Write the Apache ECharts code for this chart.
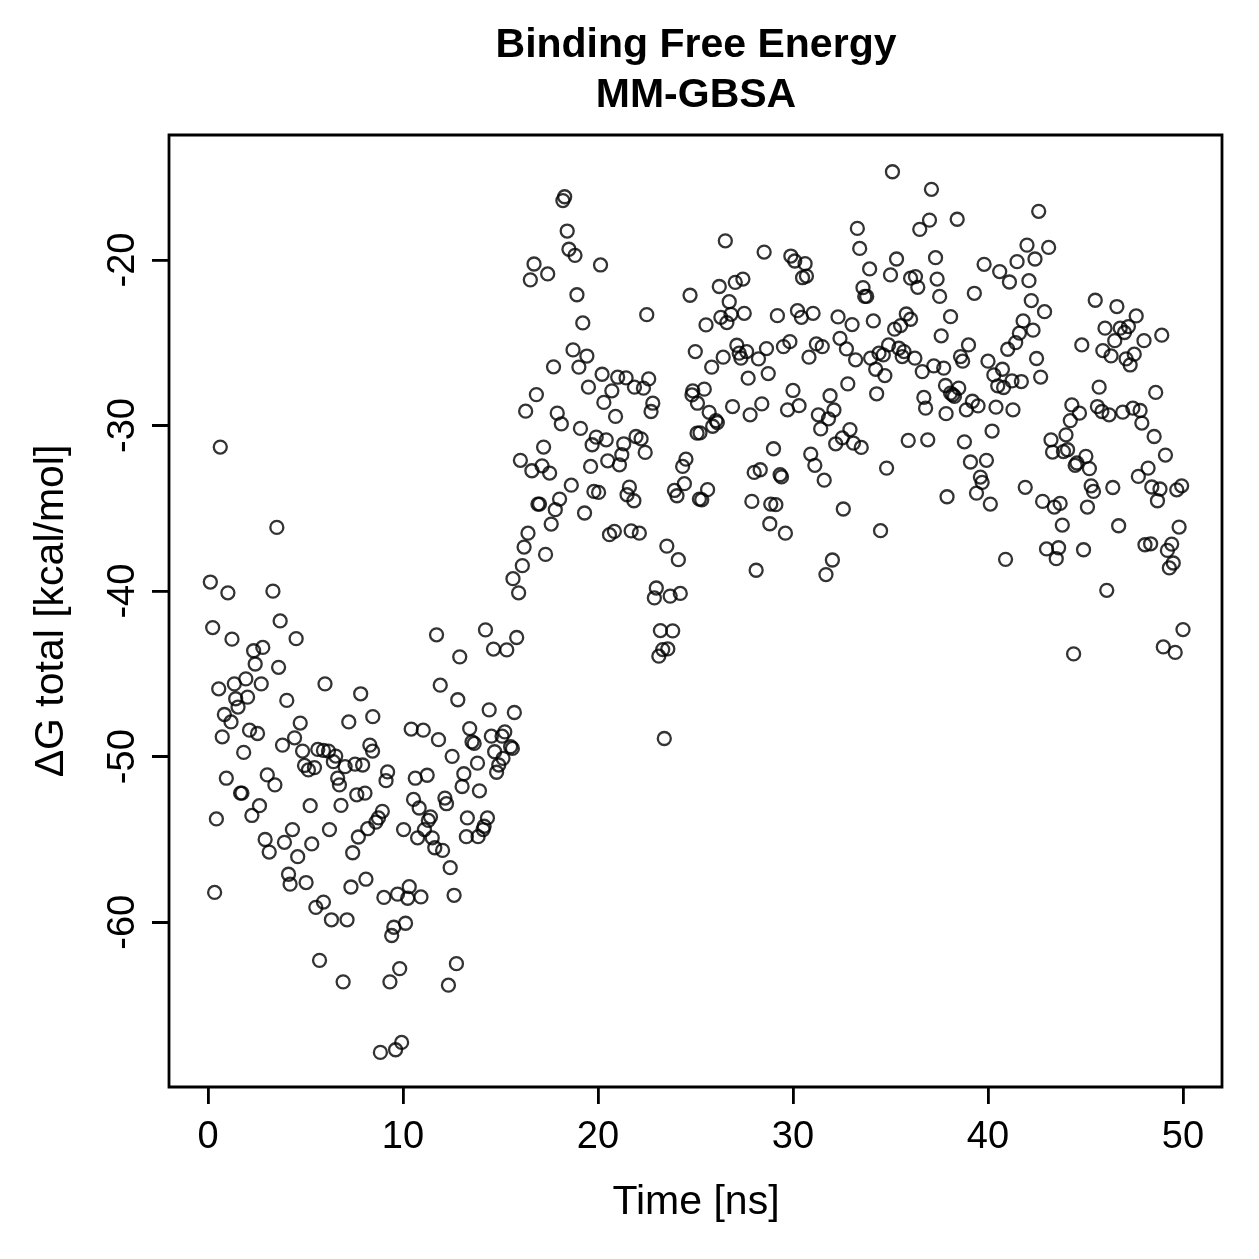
<!DOCTYPE html>
<html><head><meta charset="utf-8">
<script src="https://cdn.jsdelivr.net/npm/echarts@6/dist/echarts.min.js"></script>
<style>html,body{margin:0;padding:0;background:#fff}#wrap{position:relative;width:1259px;height:1259px}#c{width:1259px;height:1259px}.tk{position:absolute;background:#000;z-index:10}</style>
</head><body><div id="wrap"><div id="c"></div></div>
<script>
// [time (ns), dG total (kcal/mol)]
const phase1 = [[0.63,-31.3],[3.53,-36.15],[0.12,-39.45],[1.02,-40.1],[3.33,-40.0],[3.7,-41.8],[0.24,-42.2],[1.23,-42.9],[4.52,-42.87],[2.34,-43.6],[2.81,-43.4],[2.42,-44.4],[3.62,-44.6],[0.55,-45.9],[1.35,-45.6],[1.94,-45.3],[2.73,-45.6],[6.0,-45.6],[7.83,-46.2],[1.42,-46.5],[2.03,-46.4],[4.04,-46.6],[1.54,-47.0],[0.84,-47.45],[1.18,-47.9],[4.73,-47.97],[7.22,-47.9],[8.45,-47.58],[0.73,-48.8],[2.13,-48.4],[2.54,-48.6],[1.83,-49.74],[3.82,-49.3],[4.44,-48.86],[4.85,-49.66],[5.63,-49.56],[5.92,-49.62],[6.18,-49.66],[6.55,-49.96],[6.43,-50.3],[7.03,-50.6],[7.54,-50.45],[7.93,-50.5],[8.3,-49.3],[8.44,-49.66],[4.95,-50.53],[5.15,-50.8],[5.46,-50.66],[0.94,-51.3],[3.04,-51.1],[3.43,-51.7],[6.65,-51.3],[6.74,-51.7],[1.67,-52.2],[1.74,-52.2],[2.64,-52.96],[2.25,-53.55],[5.24,-52.96],[6.82,-52.94],[7.63,-52.3],[8.05,-52.2],[0.43,-53.76],[4.33,-54.4],[3.92,-55.17],[6.23,-54.4],[8.19,-54.35],[7.71,-54.85],[2.93,-55.0],[3.14,-55.76],[5.32,-55.27],[4.6,-56.04],[7.42,-55.8],[4.13,-57.1],[4.21,-57.7],[5.03,-57.6],[7.33,-57.87],[8.1,-57.4],[0.34,-58.2],[5.92,-58.78],[5.53,-59.1],[6.33,-59.85],[7.13,-59.85],[5.72,-62.3],[6.93,-63.6]];
const phase2 = [[8.94,-53.3],[8.74,-53.7],[8.61,-53.95],[10.03,-54.4],[11.41,-53.63],[11.3,-53.85],[11.1,-54.4],[10.75,-54.9],[11.5,-54.9],[11.63,-55.5],[12.03,-55.66],[13.3,-53.7],[14.33,-53.7],[14.16,-54.2],[14.11,-54.4],[13.85,-54.83],[13.25,-54.83],[11.72,-42.64],[14.23,-42.34],[15.83,-42.8],[14.64,-43.5],[15.32,-43.55],[12.91,-43.97],[11.91,-45.68],[12.81,-46.56],[14.42,-47.17],[15.71,-47.33],[10.42,-48.33],[11.04,-48.4],[11.82,-48.97],[13.42,-48.3],[13.54,-49.1],[13.65,-49.2],[14.53,-48.76],[15.08,-48.76],[15.22,-48.5],[14.7,-49.7],[15.52,-49.4],[15.61,-49.5],[15.13,-50.1],[14.91,-50.5],[14.8,-50.94],[12.52,-49.98],[13.82,-50.39],[9.21,-50.92],[9.13,-51.45],[10.63,-51.3],[11.24,-51.12],[13.12,-51.03],[13.03,-51.8],[13.92,-52.06],[10.54,-52.58],[10.83,-53.1],[12.15,-52.5],[12.23,-52.84],[12.42,-56.7],[9.02,-58.5],[9.72,-58.3],[10.32,-57.85],[10.24,-58.55],[10.92,-58.47],[12.62,-58.37],[9.53,-60.3],[9.42,-60.8],[10.13,-60.06],[9.83,-62.8],[9.33,-63.6],[12.74,-62.5],[12.33,-63.8],[9.93,-67.26],[9.62,-67.7],[8.84,-67.86]];
const phase3 = [[18.29,-16.18],[18.2,-16.41],[18.42,-18.25],[18.51,-19.35],[18.82,-19.72],[20.13,-20.3],[16.72,-20.24],[17.42,-20.84],[16.53,-21.2],[18.92,-22.1],[24.72,-22.13],[22.5,-23.3],[19.22,-23.8],[18.72,-25.43],[19.43,-25.8],[19.02,-26.47],[24.99,-25.53],[17.72,-26.45],[20.21,-26.9],[21.01,-27.08],[21.44,-27.12],[19.51,-27.68],[20.71,-27.9],[20.3,-28.6],[21.87,-27.68],[22.33,-27.74],[22.6,-27.18],[22.81,-28.65],[22.72,-29.15],[16.84,-28.13],[16.29,-29.13],[17.91,-29.25],[18.12,-29.9],[20.9,-29.45],[19.1,-30.17],[19.91,-30.7],[19.7,-31.16],[20.42,-30.86],[21.95,-30.66],[22.21,-30.8],[21.32,-31.1],[21.22,-31.76],[21.1,-32.37],[22.42,-31.62],[17.21,-31.3],[16.02,-32.1],[16.61,-32.73],[17.13,-32.43],[17.52,-32.87],[19.62,-32.47],[20.5,-32.13],[24.51,-32.03],[24.34,-32.47],[25.08,-30.46],[24.86,-27.9],[24.82,-28.15],[18.63,-33.6],[19.79,-33.98],[20.03,-34.04],[21.61,-33.72],[21.49,-34.18],[21.84,-34.54],[23.92,-33.92],[24.43,-33.51],[24.05,-34.24],[25.2,-34.44],[16.92,-34.74],[17.0,-34.74],[18.03,-34.44],[17.81,-35.08],[17.6,-35.95],[19.31,-35.28],[20.59,-36.59],[20.84,-36.39],[21.7,-36.36],[22.12,-36.5],[16.41,-36.5],[16.21,-37.34],[17.31,-37.78],[16.12,-38.46],[15.64,-39.25],[15.93,-40.1],[23.53,-37.28],[24.12,-38.1],[22.99,-39.81],[22.89,-40.41],[23.7,-40.3],[24.22,-40.14],[23.2,-42.38],[23.83,-42.4],[23.58,-43.49],[23.32,-43.53],[23.12,-43.93],[23.4,-48.9]];
const phase4 = [[35.1,-14.67],[37.1,-15.73],[37.0,-17.59],[36.5,-18.15],[33.3,-18.09],[26.53,-18.84],[33.42,-19.3],[28.52,-19.52],[29.89,-19.76],[30.09,-20.06],[30.62,-20.22],[30.69,-20.97],[30.49,-21.07],[33.93,-20.54],[35.31,-19.94],[37.31,-19.86],[35.0,-20.9],[36.03,-21.1],[36.28,-21.0],[36.4,-21.65],[37.39,-21.15],[37.52,-22.2],[33.59,-21.67],[33.68,-22.2],[33.78,-22.2],[26.22,-21.6],[27.04,-21.35],[27.43,-21.15],[26.73,-22.52],[26.82,-23.28],[26.3,-23.46],[26.61,-23.78],[27.5,-23.22],[25.54,-23.92],[29.2,-23.36],[30.23,-23.06],[30.43,-23.46],[31.03,-23.22],[32.31,-23.44],[33.03,-23.9],[34.12,-23.68],[35.81,-23.26],[36.03,-23.58],[35.52,-23.96],[35.21,-24.18],[37.6,-24.58],[38.08,-23.42],[27.12,-25.15],[27.24,-25.63],[27.33,-25.93],[27.62,-25.53],[28.64,-25.35],[28.23,-25.97],[26.42,-25.87],[25.83,-26.47],[27.7,-27.14],[28.73,-26.86],[29.51,-25.23],[29.84,-24.93],[30.82,-25.87],[31.2,-25.07],[31.5,-25.23],[32.41,-24.73],[32.74,-25.37],[33.21,-26.03],[33.98,-25.93],[34.41,-25.63],[34.63,-25.73],[34.9,-25.13],[35.43,-25.33],[35.69,-25.53],[35.6,-25.83],[36.25,-25.93],[34.24,-26.6],[34.71,-26.98],[36.63,-26.74],[37.22,-26.4],[37.73,-26.53],[37.82,-27.58],[38.08,-28.04],[36.71,-28.3],[36.8,-28.95],[34.29,-28.08],[32.81,-27.48],[31.9,-28.2],[32.1,-29.06],[30.0,-27.88],[30.31,-28.8],[29.72,-29.05],[28.4,-28.69],[26.9,-28.85],[27.8,-29.35],[25.45,-27.8],[25.1,-28.65],[25.7,-29.2],[26.05,-29.7],[26.12,-29.82],[25.88,-30.04],[25.23,-30.44],[31.3,-29.35],[31.82,-29.59],[31.42,-30.2],[32.92,-30.24],[32.53,-30.74],[32.19,-31.1],[33.1,-31.06],[33.5,-31.32],[35.91,-30.9],[36.91,-30.86],[37.85,-29.28],[29.0,-31.4],[30.91,-31.72],[31.12,-32.4],[28.01,-32.83],[28.32,-32.67],[29.34,-32.97],[29.41,-33.1],[31.6,-33.3],[34.8,-32.57],[25.62,-33.87],[25.32,-34.48],[27.89,-34.58],[28.86,-34.74],[29.12,-34.78],[32.58,-35.04],[28.81,-35.93],[29.61,-36.5],[34.49,-36.35],[32.02,-38.12],[31.69,-39.0],[28.11,-38.74],[37.9,-34.3]];
const phase5 = [[42.6,-17.06],[38.42,-17.54],[42.0,-19.1],[43.11,-19.24],[42.41,-19.94],[39.8,-20.26],[40.6,-20.7],[41.1,-21.33],[41.49,-20.1],[42.1,-21.25],[39.3,-22.01],[42.22,-22.45],[42.9,-23.12],[41.8,-23.68],[41.61,-24.42],[41.42,-24.99],[41.01,-25.39],[42.31,-24.24],[39.0,-25.13],[38.59,-25.83],[38.7,-26.11],[40.0,-26.11],[40.74,-26.6],[40.3,-26.94],[41.23,-27.3],[41.71,-27.34],[40.5,-27.6],[40.8,-27.7],[42.49,-25.95],[42.7,-27.07],[38.5,-27.74],[38.28,-28.24],[38.19,-28.14],[39.2,-28.53],[39.49,-28.81],[38.89,-29.05],[40.41,-28.89],[41.28,-29.05],[45.5,-22.43],[46.61,-22.81],[47.6,-23.38],[46.0,-24.12],[46.78,-24.12],[47.2,-24.02],[47.0,-24.38],[46.5,-24.87],[48.0,-24.87],[48.91,-24.54],[44.81,-25.13],[45.89,-25.47],[46.31,-25.79],[47.08,-25.97],[47.5,-25.69],[47.29,-26.34],[45.7,-27.68],[48.6,-28.0],[44.3,-28.75],[44.69,-29.25],[45.61,-28.85],[45.84,-29.15],[46.21,-29.35],[46.91,-29.19],[47.43,-28.95],[47.8,-29.09],[38.79,-30.98],[40.21,-30.33],[39.1,-32.2],[39.92,-32.1],[39.61,-33.11],[39.7,-33.43],[39.41,-34.08],[40.12,-34.74],[41.91,-33.73],[40.9,-38.08],[44.22,-29.7],[44.0,-30.56],[43.23,-30.86],[43.31,-31.6],[43.87,-31.57],[44.08,-31.46],[44.56,-32.26],[44.47,-32.4],[45.02,-31.86],[45.2,-32.6],[47.89,-29.85],[48.52,-30.66],[49.1,-31.78],[48.21,-32.57],[47.71,-33.07],[48.4,-33.71],[48.82,-33.83],[48.69,-34.54],[49.68,-33.88],[49.93,-33.64],[45.29,-33.64],[45.41,-33.98],[46.4,-33.74],[42.8,-34.58],[43.4,-34.92],[43.7,-34.7],[45.1,-34.92],[43.81,-36.01],[46.7,-36.05],[49.8,-36.13],[43.0,-37.45],[43.62,-37.38],[43.5,-38.04],[44.9,-37.5],[48.05,-37.2],[48.34,-37.14],[49.42,-37.16],[49.2,-37.54],[49.5,-38.3],[49.3,-38.6],[46.09,-39.95],[50.0,-42.32],[48.99,-43.37],[49.6,-43.7],[44.39,-43.79]];

const xTicks = [0, 10, 20, 30, 40, 50];
const yTicks = [-60, -50, -40, -30, -20];
const titleLines = ['Binding Free Energy', 'MM-GBSA'];
const xName = 'Time [ns]';
const yName = 'ΔG total [kcal/mol]';

const FONT = '"Liberation Sans", Arial, Helvetica, sans-serif';
const X_MIN = -2, X_MAX = 52, Y_MIN = -69.95, Y_MAX = -12.45;
const TICK_LEN = 17, TICK_W = 2.6;
const chart = echarts.init(document.getElementById('c'), null, {renderer: 'canvas'});
const points = [].concat(phase1, phase2, phase3, phase4, phase5);

chart.setOption({
  animation: false,
  backgroundColor: '#fff',
  grid: {left: 169, top: 135, width: 1053, height: 952, show: true, borderColor: '#000', borderWidth: 2.8, backgroundColor: 'transparent'},
  xAxis: {
    type: 'value', min: X_MIN, max: X_MAX,
    splitLine: {show: false},
    axisLine: {show: false, onZero: false},
    axisTick: {show: true, customValues: xTicks, length: TICK_LEN, lineStyle: {color: '#000', width: TICK_W}},
    axisLabel: {customValues: xTicks, margin: 32, color: '#000', fontSize: 38, fontFamily: FONT}
  },
  yAxis: {
    type: 'value', min: Y_MIN, max: Y_MAX,
    splitLine: {show: false},
    axisLine: {show: false, onZero: false},
    axisTick: {show: true, customValues: yTicks, length: TICK_LEN, lineStyle: {color: '#000', width: TICK_W}},
    axisLabel: {customValues: yTicks, rotate: 90, margin: 26, color: '#000', fontSize: 38, fontFamily: FONT}
  },
  graphic: [
    {type: 'text', x: 696, y: 46, style: {text: titleLines[0], textAlign: 'center', textVerticalAlign: 'middle', font: 'bold 41px ' + FONT, fill: '#000'}},
    {type: 'text', x: 696, y: 96, style: {text: titleLines[1], textAlign: 'center', textVerticalAlign: 'middle', font: 'bold 41px ' + FONT, fill: '#000'}},
    {type: 'text', x: 696, y: 1203, style: {text: xName, textAlign: 'center', textVerticalAlign: 'middle', font: '41px ' + FONT, fill: '#000'}},
    {type: 'text', x: 52, y: 611, rotation: Math.PI / 2, style: {text: yName, textAlign: 'center', textVerticalAlign: 'middle', font: '41px ' + FONT, fill: '#000'}}
  ],
  series: [{
    type: 'scatter',
    data: points,
    symbol: 'circle',
    symbolSize: 13,
    itemStyle: {color: 'rgba(0,0,0,0)', borderColor: '#000', borderWidth: 2.3},
    emphasis: {disabled: true}
  }]
});

// Outward tick marks as an overlay, placed through ECharts' own coordinate conversion
const wrap = document.getElementById('wrap');
function addTick(left, top, w, h) {
  if (!isFinite(left) || !isFinite(top)) return;
  const d = document.createElement('div');
  d.className = 'tk';
  d.style.left = left + 'px';
  d.style.top = top + 'px';
  d.style.width = w + 'px';
  d.style.height = h + 'px';
  wrap.appendChild(d);
}
xTicks.forEach(function (v) {
  const p = chart.convertToPixel({seriesIndex: 0}, [v, Y_MIN]);
  if (p) addTick(p[0] - TICK_W / 2, p[1], TICK_W, TICK_LEN);
});
yTicks.forEach(function (v) {
  const p = chart.convertToPixel({seriesIndex: 0}, [X_MIN, v]);
  if (p) addTick(p[0] - TICK_LEN, p[1] - TICK_W / 2, TICK_LEN, TICK_W);
});
</script>
</body></html>
